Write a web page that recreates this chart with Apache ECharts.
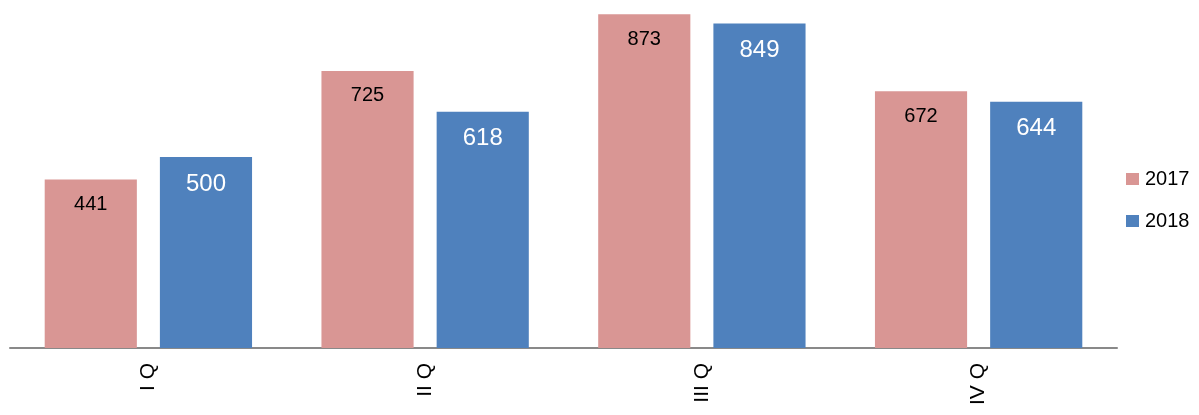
<!DOCTYPE html>
<html><head><meta charset="utf-8">
<script src="https://cdn.jsdelivr.net/npm/echarts@6/dist/echarts.min.js"></script>
<style>html,body{margin:0;padding:0;background:#fff}#c{width:1199px;height:415px}</style>
</head><body><div id="c"></div>
<script>
const categories = ['I Q', 'II Q', 'III Q', 'IV Q'];
const values2017 = [441, 725, 873, 672];
const values2018 = [500, 618, 849, 644];
const seriesNames = ['2017', '2018'];

const chart = echarts.init(document.getElementById('c'));
chart.setOption({
  animation: false,
  textStyle: { fontFamily: 'Liberation Sans, Arial, sans-serif' },
  grid: { left: 10, right: 82, top: 4, bottom: 67 },
  legend: {
    orient: 'vertical', left: 1121, top: 164, itemGap: 22,
    itemWidth: 13, itemHeight: 12, icon: 'rect',
    textStyle: { fontSize: 20, color: '#000', fontFamily: 'Liberation Sans, Arial, sans-serif', padding: [0,0,0,1] },
    data: seriesNames
  },
  xAxis: {
    type: 'category', data: categories,
    axisLine: { lineStyle: { color: '#898989', width: 2 } },
    axisTick: { show: false },
    axisLabel: { rotate: 90, fontSize: 21, color: '#000', margin: 15 }
  },
  yAxis: {
    type: 'value', min: 0, max: 900, show: false,
    splitLine: { show: false }
  },
  series: [
    { name: seriesNames[0], type: 'bar', data: values2017, barWidth: '33.3%', barGap: '25%',
      itemStyle: { color: '#D99694' },
      label: { show: true, position: 'insideTop', distance: 15, fontSize: 20, color: '#000' } },
    { name: seriesNames[1], type: 'bar', data: values2018, barWidth: '33.3%',
      itemStyle: { color: '#4F81BD' },
      label: { show: true, position: 'insideTop', distance: 15, fontSize: 24, color: '#fff' } }
  ]
});
</script></body></html>
